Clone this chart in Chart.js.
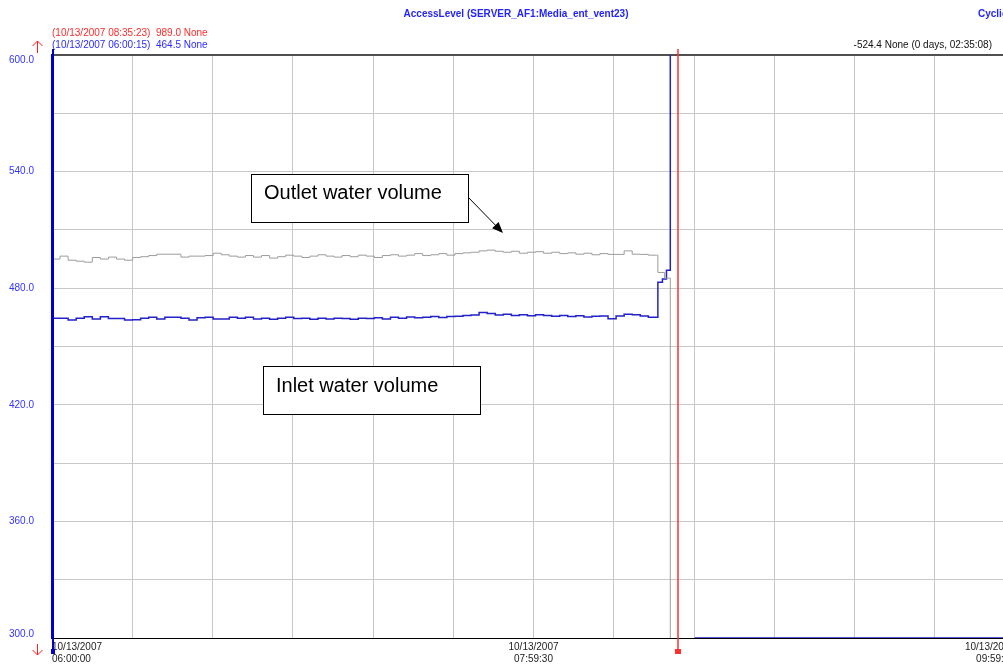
<!DOCTYPE html>
<html><head><meta charset="utf-8">
<script src="https://cdn.jsdelivr.net/npm/chart.js@4.4.1/dist/chart.umd.min.js"></script>
<style>html,body{margin:0;padding:0;overflow:hidden;background:#fff;width:1003px;height:664px}canvas{display:block}</style>
</head><body>
<canvas id="c" width="1030" height="664"></canvas>
<script>
// ---- data (seconds after 10/13/2007 06:00:00) ----
const sampleTimes = [0,120,240,360,480,600,720,840,960,1080,1200,1320,1440,1560,1680,1800,1920,2040,2160,2280,2400,2520,2640,2760,2880,3000,3120,3240,3360,3480,3600,3720,3840,3960,4080,4200,4320,4440,4560,4680,4800,4920,5040,5160,5280,5400,5520,5640,5760,5880,6000,6120,6240,6360,6480,6600,6720,6840,6960,7080,7200,7320,7440,7560,7680,7800,7920,8040,8160,8280,8400,8520,8640,8760,8880,9000];
const outletValues = [495.0,496.5,494.4,493.9,493.4,495.8,495.0,496.0,495.0,494.4,
495.8,496.2,496.8,497.5,497.5,497.5,496.0,496.5,496.5,496.8,
498.0,497.2,496.5,496.0,496.8,496.0,496.8,495.5,496.2,497.0,
496.5,495.8,496.5,497.2,496.5,496.0,496.8,496.2,497.0,496.5,
495.8,496.8,497.2,496.5,497.0,497.8,496.8,497.2,497.8,497.0,
497.8,498.2,498.5,499.2,499.6,499.0,498.5,499.0,498.0,498.5,
498.8,498.0,498.5,497.8,498.2,497.5,498.0,497.2,497.8,497.4,
497.4,499.2,497.5,497.4,497.0,497.0];
const inletValues = [464.5,464.5,463.6,464.5,465.3,464.2,465.3,464.4,464.4,463.6,
463.8,464.6,465.0,464.2,465.1,465.1,464.5,463.6,464.8,465.1,
464.2,464.2,465.0,464.5,465.0,464.2,464.6,464.0,464.6,465.0,
464.4,464.6,464.0,464.6,464.2,464.6,464.4,464.0,464.6,464.4,
464.8,464.2,465.0,464.6,465.2,464.8,465.0,465.4,464.9,465.4,
465.6,465.9,466.2,467.5,467.0,466.2,466.6,466.0,466.4,465.8,
466.3,466.0,465.6,466.0,465.4,465.8,465.2,465.6,465.7,464.3,
465.7,466.6,466.4,465.7,465.0,465.0];
const outletTailTimes = [9022, 9122, 9207];
const outletTailValues = [488.1, 485.2, 200];
const inletTailTimes = [9022, 9090, 9150, 9207, 9400, 9570, 15000];
const inletTailValues = [483.1, 484.7, 489.3, 989.0, null, 300, 300];
const cursorTimes = [15, 9323];
const xTickValues = [0,1195,2390,3585,4780,5975,7170,8365,9560,10755,11950,13145,14340];
const xLabelValues = [0, 7170, 14340];
const xLabelDates = ['10/13/2007','10/13/2007','10/13/2007'];
const xLabelTimes = ['06:00:00','07:59:30','09:59:00'];
const yLabelValues = [600, 540, 480, 420, 360, 300];
const titleText = 'AccessLevel (SERVER_AF1:Media_ent_vent23)';
const titleRight = 'Cyclic';
const cursorRedText = '(10/13/2007 08:35:23)  989.0 None';
const cursorBlueText = '(10/13/2007 06:00:15)  464.5 None';
const deltaText = '-524.4 None (0 days, 02:35:08)';
const outletLabel = 'Outlet water volume';
const inletLabel = 'Inlet water volume';

const FF = "'Liberation Sans', Arial, sans-serif";
function toXY(ts, vs){ return ts.map((t,i)=>({x:t, y:vs[i]})); }
const outletData = toXY(sampleTimes, outletValues).concat(toXY(outletTailTimes, outletTailValues));
const inletData = toXY(sampleTimes, inletValues).concat(toXY(inletTailTimes, inletTailValues));

const overlay = {
  id: 'overlay',
  afterDatasetsDraw(chart) {
    const ctx = chart.ctx, xs = chart.scales.x, ys = chart.scales.y;
    ctx.save();
    // y-axis value labels (extremes kept inside the plot band, like the original)
    ctx.font = '10px ' + FF; ctx.fillStyle = '#3333ff'; ctx.textAlign = 'right'; ctx.textBaseline = 'middle';
    yLabelValues.forEach(v => {
      let y = ys.getPixelForValue(v);
      if (v === ys.max) y += 5; else if (v === ys.min) y -= 4;
      ctx.fillText(v.toFixed(1), 34, y);
    });
    // cursors
    const bx = Math.round(xs.getPixelForValue(cursorTimes[0]));
    ctx.fillStyle = '#0000cc'; ctx.fillRect(bx - 1, 49, 2, 602); ctx.fillRect(bx - 2, 649, 4, 5);
    const rx = Math.round(xs.getPixelForValue(cursorTimes[1]));
    ctx.fillStyle = '#ff3030'; ctx.fillRect(rx - 0.75, 49, 1.5, 602); ctx.fillRect(rx - 3, 649, 6, 5);
    // arrows
    ctx.strokeStyle = '#ff2020'; ctx.lineWidth = 1;
    ctx.beginPath(); ctx.moveTo(37.5, 41); ctx.lineTo(37.5, 53);
    ctx.moveTo(32.5, 46); ctx.lineTo(37.5, 41); ctx.lineTo(42.5, 46); ctx.stroke();
    ctx.beginPath(); ctx.moveTo(37.5, 644); ctx.lineTo(37.5, 655);
    ctx.moveTo(32.5, 650); ctx.lineTo(37.5, 655); ctx.lineTo(42.5, 650); ctx.stroke();
    // header texts
    ctx.textBaseline = 'middle';
    ctx.font = 'bold 10px ' + FF; ctx.fillStyle = '#2424ff';
    ctx.textAlign = 'center'; ctx.fillText(titleText, 516, 14);
    ctx.textAlign = 'left'; ctx.fillText(titleRight, 978, 14);
    ctx.font = '10px ' + FF;
    ctx.fillStyle = '#ff2a2a'; ctx.fillText(cursorRedText, 52, 33);
    ctx.fillStyle = '#2a2aff'; ctx.fillText(cursorBlueText, 52, 45);
    ctx.fillStyle = '#111'; ctx.textAlign = 'right'; ctx.fillText(deltaText, 992, 45);
    // annotation boxes
    ctx.lineWidth = 1; ctx.strokeStyle = '#000'; ctx.fillStyle = '#fff';
    ctx.fillRect(251, 174, 217, 48); ctx.strokeRect(251.5, 174.5, 217, 48);
    ctx.fillRect(263, 366, 217, 48); ctx.strokeRect(263.5, 366.5, 217, 48);
    ctx.fillStyle = '#000'; ctx.font = '20px ' + FF; ctx.textAlign = 'left';
    ctx.fillText(outletLabel, 264, 193);
    ctx.fillText(inletLabel, 276, 386);
    // arrow
    const x1 = 468, y1 = 197, x2 = 503, y2 = 233;
    const ang = Math.atan2(y2 - y1, x2 - x1);
    ctx.beginPath(); ctx.moveTo(x1, y1); ctx.lineTo(x2 - 8 * Math.cos(ang), y2 - 8 * Math.sin(ang)); ctx.stroke();
    ctx.beginPath(); ctx.moveTo(x2, y2);
    ctx.lineTo(x2 - 11 * Math.cos(ang) + 4.5 * Math.sin(ang), y2 - 11 * Math.sin(ang) - 4.5 * Math.cos(ang));
    ctx.lineTo(x2 - 11 * Math.cos(ang) - 4.5 * Math.sin(ang), y2 - 11 * Math.sin(ang) + 4.5 * Math.cos(ang));
    ctx.closePath(); ctx.fill();
    ctx.restore();
  }
};

new Chart(document.getElementById('c'), {
  type: 'line',
  data: { datasets: [
    { label: outletLabel, data: outletData, borderColor: '#9c9c9c', borderWidth: 1, stepped: true, pointRadius: 0, fill: false, spanGaps: false },
    { label: inletLabel, data: inletData, borderColor: '#2222c8', borderWidth: 1.5, stepped: true, pointRadius: 0, fill: false, spanGaps: false }
  ]},
  options: {
    responsive: false, animation: false, devicePixelRatio: 1,
    layout: { padding: { top: 55, right: 15, left: 0, bottom: 0 } },
    plugins: { legend: { display: false }, tooltip: { enabled: false }, title: { display: false } },
    scales: {
      x: {
        type: 'linear', min: 0, max: 14340,
        afterFit: s => { s.height = 26; },
        afterBuildTicks: s => { s.ticks = xTickValues.map(v => ({ value: v })); },
        grid: { drawTicks: false, color: c => (c.tick && c.tick.value === 0) ? 'rgba(0,0,0,0)' : '#c8c8c8', lineWidth: 1 },
        border: { color: '#000', width: 1 },
        ticks: {
          autoSkip: false, maxRotation: 0, minRotation: 0, align: 'inner', padding: 3,
          color: '#222', font: { family: FF, size: 10 },
          callback: v => { const i = xLabelValues.indexOf(v); return i >= 0 ? [xLabelDates[i], xLabelTimes[i]] : ''; }
        }
      },
      y: {
        min: 300, max: 600,
        afterFit: s => { s.width = 52; },
        grid: { drawTicks: false,
          color: c => (c.tick && c.tick.value === 600) ? '#505050' : ((c.tick && c.tick.value === 300) ? '#000' : '#c8c8c8'),
          lineWidth: c => (c.tick && c.tick.value === 600) ? 2 : 1 },
        border: { color: '#0000cc', width: 2 },
        ticks: { stepSize: 30, display: false }
      }
    }
  },
  plugins: [overlay]
});
</script>
</body></html>
